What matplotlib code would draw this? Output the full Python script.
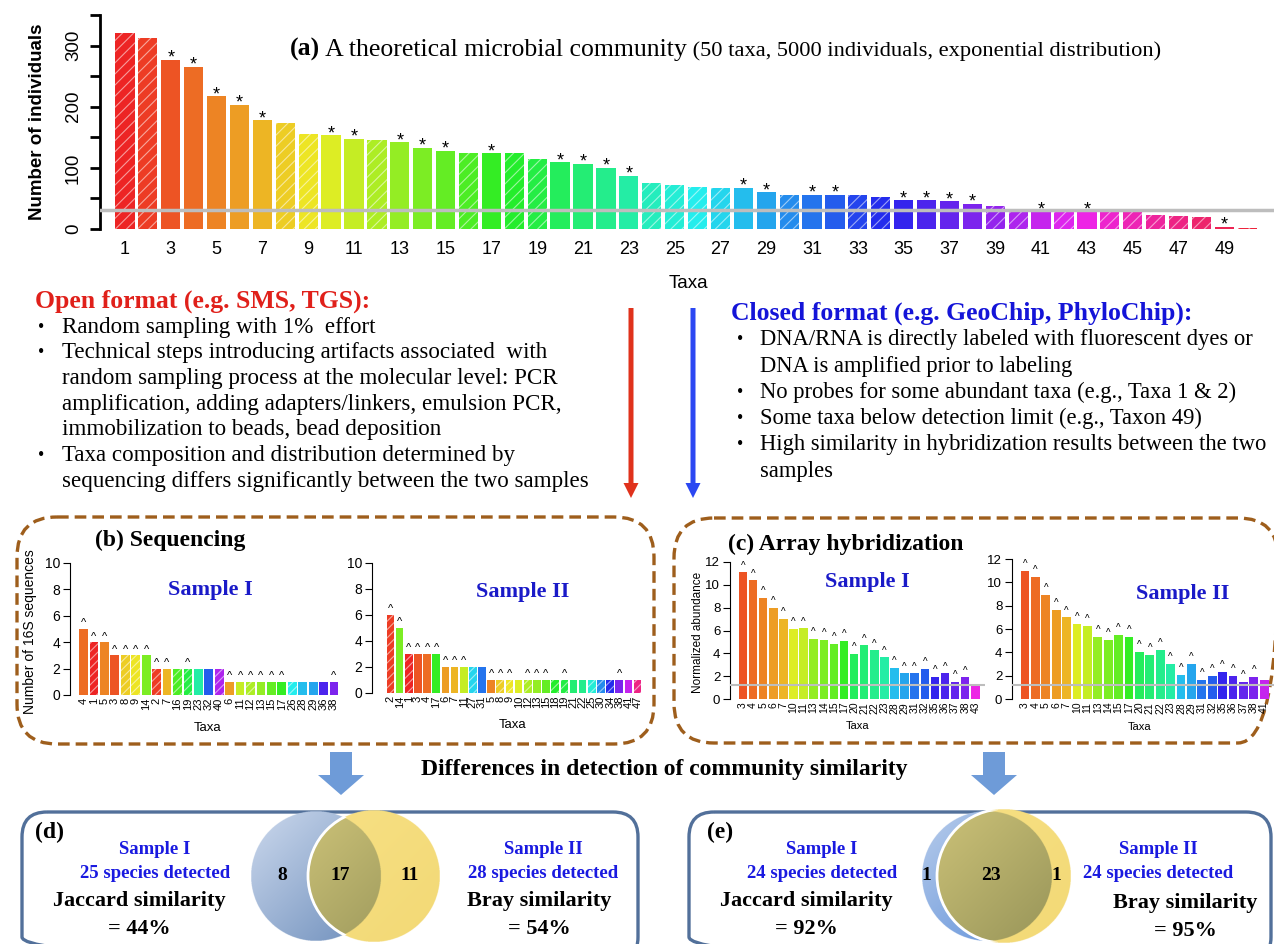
import colorsys
import numpy as np
import matplotlib
matplotlib.use('Agg')
import matplotlib.pyplot as plt
from matplotlib.patches import FancyBboxPatch, Circle, FancyArrow

W, H = 1274, 944
SERIF = 'Liberation Serif'
SANS = 'Liberation Sans'
plt.rcParams['font.family'] = SANS
plt.rcParams['hatch.linewidth'] = 0.8

# (a) theoretical community, taxa 1..50
abund = [321, 312, 277, 265, 217, 203, 178, 173, 156, 153,
         148, 145, 142, 133, 128, 124, 124, 124, 114, 109,
         107, 100, 87, 75, 72, 68, 67, 67, 60, 56,
         56, 56, 55, 52, 47, 47, 45, 41, 37, 31,
         28, 28, 28, 28, 27, 23, 21, 20, 4, 2]
# taxa with probes on the array (star)
probed = [3, 4, 5, 6, 7, 10, 11, 13, 14, 15, 17, 20, 21, 22, 23,
          28, 29, 31, 32, 35, 36, 37, 38, 41, 43, 49]
detect_a = 31

# (b) sequencing
seq1_taxa = [4, 1, 5, 3, 8, 9, 14, 2, 7, 16, 19, 23, 32, 40, 6,
             11, 12, 13, 15, 17, 26, 28, 29, 36, 38]
seq1_counts = [5, 4, 4, 3, 3, 3, 3, 2, 2, 2, 2, 2, 2, 2, 1,
               1, 1, 1, 1, 1, 1, 1, 1, 1, 1]
seq2_taxa = [2, 14, 1, 3, 4, 17, 6, 7, 11, 27, 31, 5, 8, 9, 10,
             12, 13, 15, 18, 19, 21, 22, 25, 30, 34, 38, 41, 47]
seq2_counts = [6, 5, 3, 3, 3, 3, 2, 2, 2, 2, 2, 1, 1, 1, 1,
               1, 1, 1, 1, 1, 1, 1, 1, 1, 1, 1, 1, 1]

# (c) array hybridization
arr1_taxa = [3, 4, 5, 6, 7, 10, 11, 13, 14, 15, 17, 20, 21, 22, 23,
             28, 29, 31, 32, 35, 36, 37, 38, 43]
arr1_vals = [11.1, 10.4, 8.85, 8.0, 7.0, 6.15, 6.2, 5.25, 5.2, 4.85, 5.1, 3.95,
             4.7, 4.25, 3.65, 2.75, 2.25, 2.25, 2.65, 1.95, 2.25, 1.5, 1.9, 1.2]
arr2_taxa = [3, 4, 5, 6, 7, 10, 11, 13, 14, 15, 17, 20, 21, 22, 23,
             28, 29, 31, 32, 35, 36, 37, 38, 41]
arr2_vals = [11.0, 10.5, 8.9, 7.65, 7.0, 6.45, 6.3, 5.35, 5.1, 5.5, 5.35, 4.05,
             3.8, 4.2, 3.0, 2.1, 3.0, 1.65, 2.0, 2.3, 1.95, 1.5, 1.9, 1.6]
detect_c1 = 1.22
detect_c2 = 1.2

# (d), (e) venn counts: only I, shared, only II
venn_d = [8, 17, 11]
venn_e = [1, 23, 1]


def taxon_color(t):
    return colorsys.hsv_to_rgb((t - 1) / 50.0, 0.85, 0.93)


def lighter(c, f=0.5):
    return tuple(np.array(c) * (1 - f) + f)


def add_ax(l, t, r, b):
    ax = fig.add_axes([l / W, 1 - b / H, (r - l) / W, (b - t) / H], zorder=2)
    ax.patch.set_visible(False)
    for s in ['top', 'right', 'bottom']:
        ax.spines[s].set_visible(False)
    return ax


def draw_bars(ax, xs, vals, taxa, hatch):
    for x, v, t in zip(xs, vals, taxa):
        c = taxon_color(t)
        if t in probed:
            ax.bar(x, v, width=0.84, color=c, linewidth=0)
        else:
            ax.bar(x, v, width=0.84, facecolor=c, edgecolor=lighter(c, 0.55),
                   linewidth=0, hatch=hatch)


fig = plt.figure(figsize=(W / 100, H / 100), dpi=100)
ov = fig.add_axes([0, 0, 1, 1], zorder=0)
ov.axis('off')

# ---------- (a) ----------
axA = add_ax(100, 15, 1274, 229)
xa = np.arange(1, 51)
draw_bars(axA, xa, abund, xa, '///')
for x, v in zip(xa, abund):
    if x in probed:
        axA.annotate('*', (x, v), xytext=(0, -5), textcoords='offset points',
                     ha='center', va='bottom', fontsize=13)
axA.axhline(detect_a, color='#BDBDBD', lw=2.5, zorder=5)
axA.set_xlim(-0.09, 51.17)
axA.set_ylim(0, 350)
axA.set_yticks(range(0, 351, 50))
axA.set_yticklabels([str(v) if v % 100 == 0 else '' for v in range(0, 351, 50)],
                    rotation=90, va='center', fontsize=13.5)
axA.set_xticks(xa[::2])
axA.set_xticklabels([str(v) for v in xa[::2]], fontsize=13)
axA.tick_params(axis='x', length=0, pad=9)
axA.tick_params(axis='y', length=7, width=2, pad=6)
axA.spines['left'].set_linewidth(2)
ov.text(38, 122, 'Number of individuals', rotation=90, fontsize=13.5,
        fontweight='bold', ha='center', va='center')
ov.text(688, 283, 'Taxa', fontsize=13.5, ha='center', va='center')

t1 = ov.text(290, 56, '(a)', fontsize=18.5, fontweight='bold', family=SERIF,
             va='baseline')
t2 = ov.annotate(' A theoretical microbial community', xy=(1, 0), xycoords=t1,
                 fontsize=18.5, family=SERIF, va='bottom')
ov.annotate(' (50 taxa, 5000 individuals, exponential distribution)', xy=(1, 0),
            xycoords=t2, fontsize=16.2, family=SERIF, va='bottom')

# ---------- text blocks ----------
ov.text(35, 301, 'Open format (e.g. SMS, TGS):', fontsize=18.5, fontweight='bold',
        family=SERIF, color='#E0201A', va='center')
open_lines = [
    (True, 'Random sampling with 1%  effort'),
    (True, 'Technical steps introducing artifacts associated  with'),
    (False, 'random sampling process at the molecular level: PCR'),
    (False, 'amplification, adding adapters/linkers, emulsion PCR,'),
    (False, 'immobilization to beads, bead deposition'),
    (True, 'Taxa composition and distribution determined by'),
    (False, 'sequencing differs significantly between the two samples'),
]
for i, (bul, s) in enumerate(open_lines):
    y = 327 + i * 25.7
    if bul:
        ov.text(38, y, '•', fontsize=13, family=SERIF, va='center')
    ov.text(62, y, s, fontsize=16.6, family=SERIF, va='center')

ov.text(731, 313, 'Closed format (e.g. GeoChip, PhyloChip):', fontsize=18.5,
        fontweight='bold', family=SERIF, color='#1414D8', va='center')
closed_lines = [
    (True, 'DNA/RNA is directly labeled with fluorescent dyes or'),
    (False, 'DNA is amplified prior to labeling'),
    (True, 'No probes for some abundant taxa (e.g., Taxa 1 & 2)'),
    (True, 'Some taxa below detection limit (e.g., Taxon 49)'),
    (True, 'High similarity in hybridization results between the two'),
    (False, 'samples'),
]
for i, (bul, s) in enumerate(closed_lines):
    y = 340 + i * 26.2
    if bul:
        ov.text(737, y, '•', fontsize=13, family=SERIF, va='center')
    ov.text(760, y, s, fontsize=16.3, family=SERIF, va='center')

ov.add_patch(FancyArrow(631, 308, 0, 190, width=5, head_width=15, head_length=15,
                        length_includes_head=True, color='#E0321C', lw=0))
ov.add_patch(FancyArrow(693, 308, 0, 190, width=5, head_width=15, head_length=15,
                        length_includes_head=True, color='#2B47F2', lw=0))

# ---------- boxes ----------
brown = '#9E5E1C'
ov.add_patch(FancyBboxPatch((17, 517), 637, 227, boxstyle='round,pad=0,rounding_size=40',
                            fill=False, ec=brown, lw=2.4, ls=(0, (3.5, 1.8))))
ov.add_patch(FancyBboxPatch((674, 518), 604, 225, boxstyle='round,pad=0,rounding_size=40',
                            fill=False, ec=brown, lw=2.4, ls=(0, (3.5, 1.8))))
steel = '#52709A'
ov.add_patch(FancyBboxPatch((22, 812), 616, 150, boxstyle='round,pad=0,rounding_size=25',
                            fill=False, ec=steel, lw=2.4))
ov.add_patch(FancyBboxPatch((689, 812), 582, 150, boxstyle='round,pad=0,rounding_size=25',
                            fill=False, ec=steel, lw=2.4))

# ---------- (b) ----------
ov.text(95, 540, '(b) Sequencing', fontsize=17, fontweight='bold', family=SERIF,
        va='center')
shared_b = set(seq1_taxa) & set(seq2_taxa)
for (l, t, r, b, x0, dx), taxa, vals, title, tpos, xlab in [
        ((70, 563, 345, 695, 83.5, 10.44), seq1_taxa, seq1_counts, 'Sample I', (210, 590), (208, 728)),
        ((372, 563, 648, 693, 390.5, 9.15), seq2_taxa, seq2_counts, 'Sample II', (523, 592), (513, 725))]:
    ax = add_ax(l, t, r, b)
    xs = np.arange(len(taxa))
    draw_bars(ax, xs, vals, taxa, '////')
    for x, v, tx in zip(xs, vals, taxa):
        if tx in shared_b:
            ax.text(x, v + 0.05, '^', ha='center', va='bottom', fontsize=8)
    ax.set_xlim(-(x0 - l) / dx, (r - x0) / dx)
    ax.set_ylim(0, 10)
    ax.set_yticks(range(0, 11, 2))
    ax.tick_params(axis='y', labelsize=10, length=5, pad=2)
    ax.set_xticks(xs)
    ax.set_xticklabels([str(v) for v in taxa], rotation=90, fontsize=8)
    ax.tick_params(axis='x', length=0, pad=2)
    ov.text(tpos[0], tpos[1], title, fontsize=16, fontweight='bold', family=SERIF,
            color='#1A1AC8', ha='center', va='center')
    ov.text(xlab[0], xlab[1], 'Taxa', fontsize=9.5, ha='center', va='center')
ov.text(30, 632, 'Number of 16S sequences', rotation=90, fontsize=10,
        ha='center', va='center')

# ---------- (c) ----------
ov.text(728, 544, '(c) Array hybridization', fontsize=17, fontweight='bold',
        family=SERIF, va='center')
shared_c = set(arr1_taxa) & set(arr2_taxa)
for (l, t, r, b, x0, dx, xend), taxa, vals, det, title, tpos, xlab in [
        ((730, 562, 990, 699, 743, 10.1, 985), arr1_taxa, arr1_vals, detect_c1, 'Sample I', (867, 582), (858, 726)),
        ((1012, 559, 1274, 699, 1025, 10.4, 1274), arr2_taxa, arr2_vals, detect_c2, 'Sample II', (1183, 594), (1140, 727))]:
    ax = add_ax(l, t, r, b)
    xs = np.arange(len(taxa))
    draw_bars(ax, xs, vals, taxa, '////')
    for x, v, tx in zip(xs, vals, taxa):
        if tx in shared_c:
            ax.text(x, v + 0.15, '^', ha='center', va='bottom', fontsize=7)
    x_lo = -(x0 - l) / dx
    ax.hlines(det, x_lo, (xend - x0) / dx, color='#BDBDBD', lw=1.5, zorder=5,
              clip_on=False)
    ax.set_xlim(x_lo, (r - x0) / dx)
    ax.set_ylim(0, 12)
    ax.set_yticks(range(0, 13, 2))
    ax.tick_params(axis='y', labelsize=9.5, length=5, pad=2)
    ax.set_xticks(xs)
    ax.set_xticklabels([str(v) for v in taxa], rotation=90, fontsize=7.5)
    ax.tick_params(axis='x', length=0, pad=2)
    ov.text(tpos[0], tpos[1], title, fontsize=16, fontweight='bold', family=SERIF,
            color='#1A1AC8', ha='center', va='center')
    ov.text(xlab[0], xlab[1], 'Taxa', fontsize=8, ha='center', va='center')
ov.text(698, 632, 'Normalized abundance', rotation=90, fontsize=8.5,
        ha='center', va='center')

# ---------- middle arrows and caption ----------
for x in [341, 994]:
    ov.add_patch(FancyArrow(x, 752, 0, 43, width=22, head_width=46, head_length=20,
                            length_includes_head=True, color='#6E9BD8', lw=0))
ov.text(664, 770, 'Differences in detection of community similarity', fontsize=17,
        fontweight='bold', family=SERIF, ha='center', va='center')


# ---------- venn diagrams ----------
def disc_image(cx, cy, r, c0, c1, other=None, z=1):
    # gradient disc, optionally restricted to the overlap with another circle
    n = 500
    xs = np.linspace(cx - r, cx + r, n)
    ys = np.linspace(cy - r, cy + r, n)
    X, Y = np.meshgrid(xs, ys)
    inside = (X - cx) ** 2 + (Y - cy) ** 2 <= r ** 2
    if other is not None:
        ox, oy, orad = other
        inside &= (X - ox) ** 2 + (Y - oy) ** 2 <= orad ** 2
    g = np.linspace(0, 1, n)
    t = ((g[None, :] + g[:, None]) / 2)[..., None]
    rgb = np.array(c0) * (1 - t) + np.array(c1) * t
    rgba = np.concatenate([rgb, inside[..., None].astype(float)], axis=2)
    ov.imshow(rgba, extent=(cx - r, cx + r, cy + r, cy - r), origin='upper',
              aspect='auto', zorder=z, interpolation='antialiased')


def venn(c1, c2, r1, r2, cy, counts, xs_num, blue0, blue1):
    disc_image(c1, cy, r1, blue0, blue1, z=1)
    disc_image(c2, cy, r2, (0.97, 0.88, 0.52), (0.95, 0.85, 0.46), z=2)
    disc_image(c2, cy, r2, (0.80, 0.76, 0.47), (0.58, 0.57, 0.34),
               other=(c1, cy, r1), z=3)
    edge = Circle((c2, cy), r2, fc='none', ec='white', lw=2, zorder=4)
    ov.add_patch(edge)
    edge.set_clip_path(Circle((c1, cy), r1 + 1, transform=ov.transData))
    for x, v in zip(xs_num, counts):
        ov.text(x, cy, str(v), fontsize=14, fontweight='bold', family=SERIF,
                ha='center', va='center', zorder=6)


venn(316, 374, 65, 66, 876, venn_d, [282, 340, 410],
     (0.80, 0.85, 0.93), (0.42, 0.55, 0.73))
venn(987, 1004, 65, 67, 876, venn_e, [926, 991, 1056],
     (0.72, 0.80, 0.92), (0.35, 0.55, 0.85))

blue_t = '#1A1AE0'
for x, s, c, fs, y in [
        (50, '(d)', 'black', 17, 832),
        (155, 'Sample I', blue_t, 13.5, 849), (155, '25 species detected', blue_t, 13.5, 873),
        (139, 'Jaccard similarity', 'black', 16, 901), (139, '= 44%', 'black', 16, 929),
        (543, 'Sample II', blue_t, 13.5, 849), (543, '28 species detected', blue_t, 13.5, 873),
        (539, 'Bray similarity', 'black', 16, 901), (539, '= 54%', 'black', 16, 929),
        (720, '(e)', 'black', 17, 832),
        (822, 'Sample I', blue_t, 13.5, 849), (822, '24 species detected', blue_t, 13.5, 873),
        (806, 'Jaccard similarity', 'black', 16, 901), (806, '= 92%', 'black', 16, 929),
        (1158, 'Sample II', blue_t, 13.5, 849), (1158, '24 species detected', blue_t, 13.5, 873),
        (1185, 'Bray similarity', 'black', 16, 903), (1185, '= 95%', 'black', 16, 931)]:
    ov.text(x, y, s, fontsize=fs, fontweight='bold', family=SERIF, color=c,
            ha='center', va='center')

ov.set_xlim(0, W)
ov.set_ylim(H, 0)
fig.savefig('out.png', dpi=100)
